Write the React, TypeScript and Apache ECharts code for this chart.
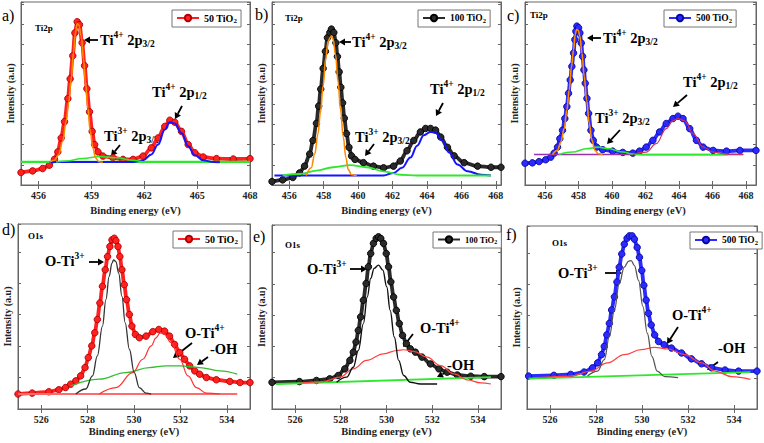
import React, { useEffect, useRef } from 'react';
import * as echarts from 'echarts';

const SERIF = "'Liberation Serif', 'DejaVu Serif', serif";

// ---------- tick labels ----------
const ticksA = [456, 459, 462, 465, 468];
const ticksBC = [456, 458, 460, 462, 464, 466, 468];
const ticksO = [526, 528, 530, 532, 534];

// ---------- panel a : 50 TiO2, Ti2p ----------
const aData = [[455.0,6.8],[455.66,7.7],[456.23,9.0],[456.61,10.8],[456.9,14.0],[457.09,18.1],[457.28,25.7],[457.47,34.6],[457.66,47.2],[457.79,58.0],[457.94,70.6],[458.06,83.1],[458.19,89.2],[458.32,87.6],[458.47,77.7],[458.61,65.2],[458.74,52.6],[458.89,40.0],[459.04,29.3],[459.18,22.1],[459.37,18.1],[459.65,15.8],[460.22,14.9],[460.79,14.0],[461.36,14.0],[461.93,15.8],[462.4,20.3],[462.78,25.7],[463.16,32.0],[463.45,35.4],[463.73,34.3],[464.11,29.3],[464.49,22.1],[464.87,17.6],[465.34,15.3],[466.1,14.4],[467.05,14.2],[468.0,14.4]];
const aPeak32 = [[456.61,12.6],[456.9,13.5],[457.14,16.7],[457.37,23.9],[457.56,34.6],[457.71,45.4],[457.85,58.0],[457.98,72.4],[458.09,83.1],[458.19,88.2],[458.28,87.6],[458.42,81.3],[458.55,68.8],[458.66,56.2],[458.8,41.8],[458.93,29.3],[459.08,20.3],[459.23,14.9],[459.42,12.7],[459.65,12.4]];
const aTi3 = [[456.99,12.6],[457.56,13.1],[458.51,14.5],[459.46,15.6],[460.41,14.9],[461.36,13.5],[461.93,12.6]];
const aBase = [[455.0,12.6],[468.0,12.6]];
const aPeak12 = [[456.61,12.6],[461.36,12.6],[461.93,13.5],[462.4,16.7],[462.78,22.1],[463.16,30.2],[463.45,34.3],[463.73,33.6],[464.11,28.4],[464.49,21.2],[464.87,16.2],[465.34,13.5],[465.91,12.6],[466.29,12.4]];

// ---------- panel b : 100 TiO2, Ti2p ----------
const bData = [[455.0,1.9],[455.62,2.8],[456.21,4.1],[456.6,6.6],[456.89,10.3],[457.19,16.9],[457.38,24.3],[457.58,33.7],[457.71,43.1],[457.83,52.4],[457.97,63.7],[458.1,73.0],[458.22,80.5],[458.36,83.3],[458.45,85.2],[458.59,83.3],[458.71,77.7],[458.8,70.2],[458.9,61.8],[459.0,53.4],[459.1,44.9],[459.2,36.5],[459.33,28.1],[459.47,20.6],[459.62,15.9],[459.82,14.0],[460.31,12.2],[460.89,10.3],[461.48,9.4],[462.06,10.3],[462.45,13.1],[462.84,18.7],[463.23,24.3],[463.62,29.0],[463.92,30.9],[464.21,30.9],[464.5,30.0],[464.8,26.2],[465.19,20.6],[465.58,15.9],[466.16,12.2],[466.94,10.3],[467.72,9.7],[468.3,9.7]];
const bPeak32 = [[456.99,5.2],[457.28,9.4],[457.48,16.9],[457.67,28.1],[457.81,39.3],[457.97,54.3],[458.12,69.3],[458.26,78.7],[458.4,80.9],[458.45,81.5],[458.55,79.6],[458.69,71.2],[458.84,56.2],[458.98,41.2],[459.14,26.2],[459.29,15.0],[459.43,8.4],[459.62,5.6],[459.92,4.9]];
const bTi3 = [[455.62,5.2],[456.6,6.0],[457.58,7.9],[458.55,9.7],[459.53,10.9],[460.5,9.7],[461.48,7.5],[462.45,5.6],[463.43,5.2],[467.72,5.2]];
const bPeak12 = [[455.14,5.2],[461.48,5.2],[462.06,6.6],[462.55,9.4],[463.04,15.0],[463.43,21.5],[463.82,27.2],[464.21,29.0],[464.5,28.5],[464.89,24.3],[465.28,17.8],[465.77,11.2],[466.36,7.5],[467.14,5.6],[467.72,5.2]];

// ---------- panel c : 500 TiO2, Ti2p ----------
const cData = [[454.8,11.9],[455.24,12.1],[455.64,12.8],[456.04,13.8],[456.34,15.2],[456.54,17.4],[456.74,20.7],[456.88,25.3],[457.04,29.9],[457.18,36.3],[457.3,42.8],[457.4,50.1],[457.5,57.4],[457.6,64.8],[457.7,72.1],[457.78,79.4],[457.84,84.0],[457.9,86.8],[458.0,85.9],[458.08,83.1],[458.16,77.6],[458.24,70.3],[458.32,62.9],[458.4,55.6],[458.5,47.3],[458.6,39.1],[458.74,29.9],[458.88,24.4],[459.08,20.7],[459.44,19.3],[460.04,18.5],[460.64,17.8],[461.24,17.4],[461.64,18.5],[462.04,20.7],[462.44,24.4],[462.84,29.0],[463.24,33.6],[463.64,36.3],[463.94,37.6],[464.24,36.3],[464.64,30.8],[465.04,24.4],[465.44,20.7],[466.04,18.9],[466.84,18.5],[467.64,18.9],[468.6,18.9]];
const cPeak32 = [[456.44,16.7],[456.74,18.9],[456.94,23.5],[457.14,30.8],[457.3,40.9],[457.44,51.9],[457.58,64.8],[457.7,73.9],[457.8,82.2],[457.88,85.0],[457.98,84.6],[458.08,81.3],[458.2,72.1],[458.34,59.3],[458.48,46.4],[458.64,33.6],[458.8,24.4],[458.98,18.9],[459.18,17.1],[459.44,16.7]];
const cTi3 = [[456.84,16.7],[457.64,18.0],[458.44,19.8],[459.14,20.7],[459.84,19.8],[460.64,18.0],[461.24,16.9],[462.04,16.5],[466.94,16.5]];
const cBase = [[455.34,16.7],[467.84,16.7]];
const cPeak12 = [[461.24,16.7],[462.04,18.0],[462.64,22.6],[463.24,30.8],[463.64,35.0],[463.94,36.3],[464.34,35.0],[464.84,28.1],[465.44,20.7],[466.04,18.0],[466.84,16.9],[467.84,16.7]];

// ---------- panel d : 50 TiO2, O1s ----------
const dData = [[525.0,8.1],[525.61,8.6],[526.33,9.3],[526.76,10.4],[527.05,11.6],[527.27,13.4],[527.49,15.2],[527.7,17.9],[527.89,22.4],[528.03,27.8],[528.18,34.1],[528.31,41.2],[528.42,48.4],[528.53,57.3],[528.64,66.3],[528.76,75.3],[528.86,82.4],[528.96,87.8],[529.05,91.4],[529.15,92.3],[529.22,91.0],[529.31,87.8],[529.39,82.4],[529.48,75.3],[529.58,67.2],[529.68,59.1],[529.8,51.1],[529.91,44.8],[530.06,40.3],[530.23,38.5],[530.52,39.4],[530.81,41.8],[531.07,43.0],[531.32,42.1],[531.53,39.4],[531.75,34.9],[531.97,30.5],[532.18,26.9],[532.4,23.3],[532.62,20.6],[532.83,18.8],[533.12,17.0],[533.55,15.8],[534.13,14.9],[534.57,14.3],[535.0,14.3]];
const dTi3 = [[527.49,8.1],[527.92,10.8],[528.21,17.9],[528.42,28.7],[528.64,44.8],[528.79,59.1],[528.93,71.7],[529.05,78.9],[529.12,80.6],[529.22,79.7],[529.34,73.5],[529.48,60.9],[529.62,46.6],[529.8,32.3],[530.01,19.7],[530.23,11.6],[530.52,8.6],[530.74,8.1]];
const dTi4 = [[528.5,8.1],[529.22,11.6],[529.94,19.7],[530.38,26.9],[530.74,34.1],[530.95,38.5],[531.13,41.2],[531.31,40.3],[531.6,35.8],[531.97,26.9],[532.33,17.9],[532.69,11.6],[533.12,8.6],[533.7,8.1]];
const dOH = [[527.27,12.5],[528.5,16.1],[529.65,19.7],[530.66,22.4],[531.39,23.3],[531.97,23.3],[532.83,22.4],[533.7,20.6],[534.45,18.8]];
const dBase = [[525.0,8.1],[534.45,8.1]];

// ---------- panel e : 100 TiO2, O1s ----------
const eData = [[525.0,14.5],[526.2,14.9],[526.94,15.5],[527.52,16.4],[527.89,18.2],[528.18,21.8],[528.4,26.4],[528.55,30.9],[528.67,36.4],[528.77,42.7],[528.87,50.0],[528.99,59.1],[529.11,68.2],[529.21,77.3],[529.31,84.5],[529.43,90.0],[529.55,92.7],[529.65,93.6],[529.75,92.7],[529.87,90.0],[529.99,84.5],[530.09,77.3],[530.19,69.1],[530.31,60.9],[530.43,53.6],[530.56,46.4],[530.7,40.0],[530.87,35.5],[531.04,32.7],[531.26,30.9],[531.55,28.2],[531.92,24.5],[532.29,21.8],[532.65,20.0],[533.09,18.5],[533.68,17.8],[534.27,17.6],[535.0,17.6]];
const eTi3 = [[527.82,14.5],[528.26,17.3],[528.55,22.7],[528.77,31.8],[528.99,46.4],[529.16,60.9],[529.31,70.9],[529.46,76.4],[529.65,78.2],[529.84,75.5],[530.01,66.4],[530.16,53.6],[530.34,39.1],[530.53,26.4],[530.75,18.2],[531.04,14.5],[531.48,13.6],[532.21,13.6]];
const eTi4 = [[526.2,14.0],[527.23,14.9],[527.96,17.3],[528.55,21.8],[529.13,26.4],[529.87,30.0],[530.45,31.8],[530.75,32.2],[531.19,31.3],[531.77,28.2],[532.36,23.6],[532.95,19.1],[533.53,15.8],[534.12,14.2],[534.56,13.6]];
const eBase = [[525.18,13.6],[534.56,17.3]];

// ---------- panel f : 500 TiO2, O1s ----------
const fData = [[525.07,18.0],[526.17,18.4],[526.9,18.9],[527.48,20.2],[527.85,22.5],[528.07,25.2],[528.24,29.7],[528.36,34.2],[528.47,40.5],[528.58,46.8],[528.68,54.1],[528.8,61.3],[528.91,69.4],[529.01,77.5],[529.12,84.7],[529.23,90.1],[529.35,93.3],[529.45,94.6],[529.57,94.6],[529.67,92.8],[529.79,88.3],[529.89,82.9],[529.99,75.7],[530.08,67.6],[530.18,59.5],[530.28,52.3],[530.4,45.9],[530.55,40.5],[530.72,36.9],[530.96,35.1],[531.28,33.3],[531.72,30.6],[532.15,27.4],[532.59,24.7],[533.03,22.5],[533.61,21.3],[534.2,20.7],[535.0,20.7]];
const fTi3 = [[527.63,18.0],[528.07,20.7],[528.36,27.0],[528.58,39.6],[528.8,54.1],[529.01,68.5],[529.23,77.5],[529.41,80.7],[529.53,81.1],[529.67,78.4],[529.85,70.3],[530.04,55.9],[530.23,41.4],[530.43,28.8],[530.66,20.7],[530.99,17.7],[531.57,17.1]];
const fTi4 = [[525.44,17.1],[526.9,18.0],[527.77,20.7],[528.5,25.2],[529.23,29.7],[529.96,32.4],[530.55,33.7],[531.13,32.8],[531.86,29.7],[532.59,25.2],[533.18,20.7],[533.9,17.7],[534.71,16.2]];
const fBase = [[525.07,16.6],[534.71,20.2]];

// ---------- layout ----------
type Panel = { left: number; top: number; width: number; height: number; min: number; max: number; ticks: number[]; yInt: number; nameGap: number };
const panels: Panel[] = [
  { left: 21, top: 2, width: 229, height: 183, min: 455, max: 468, ticks: ticksA, yInt: 11, nameGap: 20 },
  { left: 272, top: 2, width: 229, height: 183, min: 455, max: 468.3, ticks: ticksBC, yInt: 11, nameGap: 20 },
  { left: 525, top: 2, width: 231, height: 183, min: 454.8, max: 468.6, ticks: ticksBC, yInt: 11, nameGap: 20 },
  { left: 18, top: 224, width: 232, height: 185, min: 525, max: 535, ticks: ticksO, yInt: 17, nameGap: 17 },
  { left: 272, top: 225, width: 229, height: 184, min: 525, max: 535, ticks: ticksO, yInt: 17, nameGap: 17 },
  { left: 527, top: 226, width: 230, height: 183, min: 525, max: 535, ticks: ticksO, yInt: 17, nameGap: 17 },
];

const AX = '#666';

function buildAxes() {
  const xAxis: any[] = [];
  const yAxis: any[] = [];
  panels.forEach((p, i) => {
    xAxis.push({
      type: 'value', gridIndex: i, min: p.min, max: p.max, position: 'bottom',
      axisLine: { show: true, lineStyle: { color: AX, width: 1 } },
      axisTick: { show: true, inside: true, length: 4, customValues: p.ticks, lineStyle: { color: AX } },
      axisLabel: { show: true, customValues: p.ticks, margin: 5, fontFamily: SERIF, fontWeight: 'bold', fontSize: 10, color: '#222' },
      splitLine: { show: false },
      name: 'Binding energy (eV)', nameLocation: 'middle', nameGap: p.nameGap,
      nameTextStyle: { fontFamily: SERIF, fontWeight: 'bold', fontSize: 10.5, color: '#222' },
    });
    xAxis.push({
      type: 'value', gridIndex: i, min: p.min, max: p.max, position: 'top',
      axisLine: { show: true, lineStyle: { color: AX, width: 1 } },
      axisTick: { show: true, inside: true, length: 4, customValues: p.ticks, lineStyle: { color: AX } },
      axisLabel: { show: false }, splitLine: { show: false },
    });
    yAxis.push({
      type: 'value', gridIndex: i, min: 0, max: 100, interval: p.yInt, position: 'left',
      axisLine: { show: true, lineStyle: { color: AX, width: 1 } },
      axisTick: { show: true, inside: true, length: 3, lineStyle: { color: AX } },
      axisLabel: { show: false }, splitLine: { show: false },
      name: 'Intensity (a.u)', nameLocation: 'middle', nameGap: 6, nameRotate: 90,
      nameTextStyle: { fontFamily: SERIF, fontWeight: 'bold', fontSize: 10, color: '#222' },
    });
    yAxis.push({
      type: 'value', gridIndex: i, min: 0, max: 100, interval: p.yInt, position: 'right',
      axisLine: { show: true, lineStyle: { color: AX, width: 1 } },
      axisTick: { show: true, inside: true, length: 3, lineStyle: { color: AX } },
      axisLabel: { show: false }, splitLine: { show: false },
    });
  });
  return { xAxis, yAxis };
}

function meas(name: string, data: number[][], i: number, color: string, border: string) {
  return {
    type: 'line', name, data, xAxisIndex: i * 2, yAxisIndex: i * 2,
    symbol: 'circle', symbolSize: 6.5, showSymbol: true, smooth: 0.3, smoothMonotone: 'x',
    lineStyle: { color, width: 3.8 },
    itemStyle: { color, borderColor: border, borderWidth: 0.9 },
    z: 2, silent: true,
  };
}
function fit(name: string, data: number[][], i: number, color: string, width = 1.3) {
  return {
    type: 'line', name, data, xAxisIndex: i * 2, yAxisIndex: i * 2,
    symbol: 'none', smooth: 0.4, smoothMonotone: 'x',
    lineStyle: { color, width }, itemStyle: { color },
    z: 3, silent: true,
  };
}

const ORANGE = '#ff8a00';
const GREEN = '#2ee82e';
const BLUE = '#1414ff';

function buildSeries() {
  return [
    meas('50 TiO2', aData, 0, '#ff2020', '#b00000'),
    fit('a-base', aBase, 0, GREEN, 2.2),
    fit('a-2p12', aPeak12, 0, BLUE, 2),
    fit('a-ti3', aTi3, 0, GREEN, 1.6),
    fit('a-2p32', aPeak32, 0, ORANGE, 1.6),

    meas('100 TiO2', bData, 1, '#2a2a2a', '#000'),
    fit('b-2p12', bPeak12, 1, BLUE, 2),
    fit('b-ti3', bTi3, 1, GREEN, 1.8),
    fit('b-2p32', bPeak32, 1, ORANGE, 1.6),

    meas('500 TiO2', cData, 2, '#2b2bff', '#0808a0'),
    fit('c-base', cBase, 2, '#9933aa', 1.6),
    fit('c-ti3', cTi3, 2, GREEN, 1.6),
    fit('c-2p12', cPeak12, 2, '#d03060', 1.2),
    fit('c-2p32', cPeak32, 2, ORANGE, 1.6),

    meas('50 TiO2', dData, 3, '#ff2020', '#b00000'),
    fit('d-base', dBase, 3, '#ff6b6b', 2.2),
    fit('d-oh', dOH, 3, '#33bb33', 1.3),
    fit('d-ti4', dTi4, 3, '#ff3030', 1.2),
    fit('d-ti3', dTi3, 3, '#333333', 1.3),

    meas('100 TiO2', eData, 4, '#2a2a2a', '#000'),
    fit('e-base', eBase, 4, GREEN, 1.8),
    fit('e-ti4', eTi4, 4, '#ff4040', 1.2),
    fit('e-ti3', eTi3, 4, '#111111', 1.4),

    meas('500 TiO2', fData, 5, '#2b2bff', '#0808a0'),
    fit('f-base', fBase, 5, GREEN, 1.8),
    fit('f-ti4', fTi4, 5, '#ff4040', 1.2),
    fit('f-ti3', fTi3, 5, '#555555', 1.3),
  ];
}

// ---------- legends ----------
const legendSpecs = [
  { name: '50 TiO2', left: 172, top: 10, fs: 10 },
  { name: '100 TiO2', left: 418, top: 10, fs: 9.5 },
  { name: '500 TiO2', left: 664, top: 10, fs: 9.5 },
  { name: '50 TiO2', left: 173, top: 231, fs: 10 },
  { name: '100 TiO2', left: 433, top: 232, fs: 8.5 },
  { name: '500 TiO2', left: 690, top: 232, fs: 9.5 },
];
function buildLegends() {
  return legendSpecs.map((l) => ({
    data: [l.name], left: l.left, top: l.top, orient: 'horizontal',
    backgroundColor: '#fff', borderColor: '#777', borderWidth: 1, padding: [3, 4, 3, 4],
    itemWidth: 22, itemHeight: 8, itemGap: 0, selectedMode: false,
    formatter: (n: string) => `{n|${n.replace('TiO2', 'TiO')}}{s|2}`,
    textStyle: {
      color: '#000',
      rich: {
        n: { fontFamily: SERIF, fontWeight: 'bold', fontSize: l.fs, color: '#000' },
        s: { fontFamily: SERIF, fontWeight: 'bold', fontSize: l.fs * 0.7, color: '#000', padding: [5, 0, 0, 0] },
      },
    },
  }));
}

// ---------- annotations ----------
const RICH = {
  b: { fontFamily: SERIF, fontWeight: 'bold', fontSize: 14.5, fill: '#000' },
  p: { fontFamily: SERIF, fontWeight: 'bold', fontSize: 9.5, fill: '#000', padding: [0, 0, 10, 0] },
  q: { fontFamily: SERIF, fontWeight: 'bold', fontSize: 9.5, fill: '#000', padding: [8, 0, 0, 0] },
};
function label(x: number, y: number, text: string) {
  return { type: 'text', x, y, style: { text, rich: RICH, verticalAlign: 'middle', align: 'left' } };
}
function plain(x: number, y: number, text: string, size: number, bold = false) {
  return { type: 'text', x, y, style: { text, fill: '#000', fontFamily: SERIF, fontSize: size, fontWeight: bold ? 'bold' : 'normal', verticalAlign: 'middle', align: 'left' } };
}
function arrow(x1: number, y1: number, x2: number, y2: number) {
  const dx = x2 - x1, dy = y2 - y1;
  const L = Math.hypot(dx, dy);
  const ux = dx / L, uy = dy / L;
  const hl = 6, hw = 3.5;
  const bx = x2 - ux * hl, by = y2 - uy * hl;
  return [
    { type: 'line', shape: { x1, y1, x2: bx, y2: by }, style: { stroke: '#000', lineWidth: 1.8 } },
    { type: 'polygon', shape: { points: [[x2, y2], [bx - uy * hw, by + ux * hw], [bx + uy * hw, by - ux * hw]] }, style: { fill: '#000' } },
  ];
}
const TI4_32 = '{b|Ti}{p|4+}{b| 2p}{q|3/2}';
const TI4_12 = '{b|Ti}{p|4+}{b| 2p}{q|1/2}';
const TI3_32 = '{b|Ti}{p|3+}{b| 2p}{q|3/2}';
const OTI3 = '{b|O-Ti}{p|3+}';
const OTI4 = '{b|O-Ti}{p|4+}';

function buildGraphics() {
  return [
    // a
    plain(2, 15, 'a)', 16), plain(35, 28, 'Ti2p', 9, true),
    label(100, 40, TI4_32), ...arrow(98, 40, 84, 40),
    label(152, 92, TI4_12), ...arrow(182, 106, 175, 119),
    label(104, 136, TI3_32), ...arrow(120, 145, 111, 156),
    // b
    plain(255, 14, 'b)', 16), plain(285, 18, 'Ti2p', 9, true),
    label(352, 42, TI4_32), ...arrow(351, 42, 339, 42),
    label(430, 89, TI4_12), ...arrow(443, 103, 436, 116),
    label(355, 137, TI3_32), ...arrow(374, 144, 365, 156),
    // c
    plain(507, 15, 'c)', 16), plain(530, 15, 'Ti2p', 9, true),
    label(603, 38, TI4_32), ...arrow(601, 38, 587, 38),
    label(683, 82, TI4_12), ...arrow(687, 95, 673, 107),
    label(595, 118, TI3_32), ...arrow(620, 130, 607, 144),
    // d
    plain(2, 229, 'd)', 16), plain(28, 236, 'O1s', 9, true),
    label(45, 261, OTI3), ...arrow(89, 262, 104, 262),
    label(185, 333, OTI4), ...arrow(192, 343, 173, 358),
    label(210, 349, '{b|-OH}'), ...arrow(208, 357, 197, 365),
    // e
    plain(253, 236, 'e)', 16), plain(285, 245, 'O1s', 9, true),
    label(307, 269, OTI3), ...arrow(350, 269, 367, 269),
    label(420, 328, OTI4), ...arrow(413, 334, 403, 347),
    label(447, 365, '{b|-OH}'), ...arrow(447, 372, 437, 377),
    // f
    plain(506, 234, 'f)', 16), plain(552, 243, 'O1s', 9, true),
    label(558, 273, OTI3), ...arrow(605, 273, 622, 273),
    label(672, 315, OTI4), ...arrow(678, 327, 667, 344),
    label(718, 348, '{b|-OH}'), ...arrow(718, 362, 707, 370),
  ];
}

export default function App() {
  const ref = useRef<HTMLDivElement>(null);
  useEffect(() => {
    if (!ref.current) return;
    const chart = echarts.init(ref.current, null, { renderer: 'svg' });
    const { xAxis, yAxis } = buildAxes();
    chart.setOption({
      animation: false,
      backgroundColor: '#fff',
      grid: panels.map((p) => ({ left: p.left, top: p.top, width: p.width, height: p.height, show: true, borderColor: AX, borderWidth: 1, backgroundColor: 'transparent' })),
      xAxis, yAxis,
      legend: buildLegends(),
      series: buildSeries(),
      graphic: buildGraphics(),
    });
    return () => chart.dispose();
  }, []);
  return <div ref={ref} style={{ position: 'fixed', left: 0, top: 0, width: 764, height: 443, background: '#fff' }} />;
}
